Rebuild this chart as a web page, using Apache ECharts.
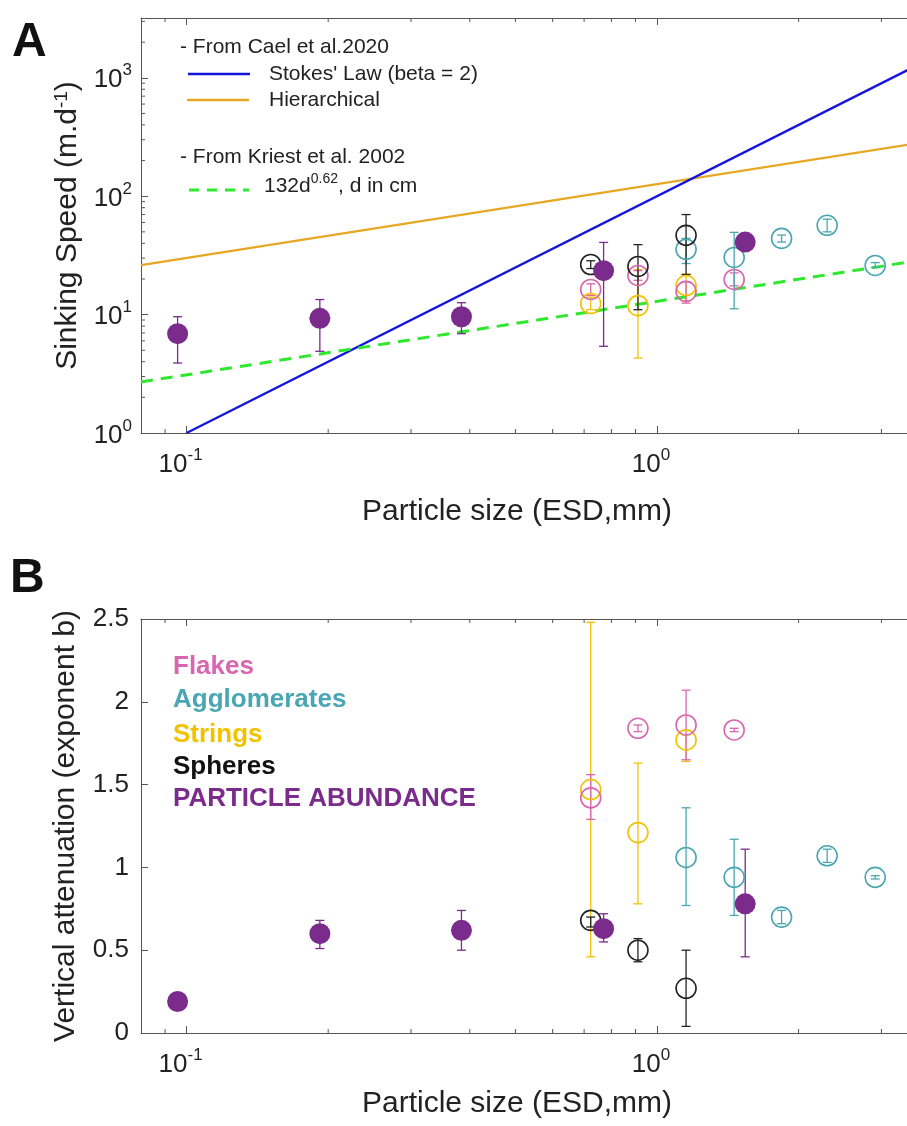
<!DOCTYPE html>
<html>
<head>
<meta charset="utf-8">
<script src="https://cdn.jsdelivr.net/npm/echarts@6/dist/echarts.min.js"></script>
<style>
  html, body { margin: 0; padding: 0; background: #fff; }
  #container { width: 907px; height: 1126px; }
</style>
</head>
<body>
<div id="container"></div>
<script>
// ---- data ----
// particle size (ESD, mm) of each class
const abundSize = [0.0957, 0.192, 0.384, 0.77, 1.54];
const flakeSize = [0.723, 0.911, 1.153, 1.459];
const aggSize = [1.153, 1.459, 1.84, 2.30, 2.91];
const stringSize = [0.723, 0.911, 1.153];
const sphereSize = [0.723, 0.911, 1.153];

// panel A : sinking speed (m/d)
const abundSpeed = [6.9, 9.3, 9.6, 23.5, 41];
const abundSpeedLo = [3.9, 4.9, 6.9, 5.4, null];
const abundSpeedHi = [9.6, 13.4, 12.6, 40.7, null];
const flakeSpeed = [16.3, 21.4, 15.7, 19.8];
const flakeSpeedLo = [14.5, 19.5, 12.5, 17.5];
const flakeSpeedHi = [18.2, 23.5, 19, 22.5];
const aggSpeed = [35.6, 30.4, 44, 56.8, 26];
const aggSpeedLo = [27, 11.2, 41, 50, 25];
const aggSpeedHi = [44, 49.5, 47, 64, 27.5];
const stringSpeed = [12.4, 11.9, 17.6];
const stringSpeedLo = [11, 4.3, 13];
const stringSpeedHi = [14, 24, 22];
const sphereSpeed = [26.5, 25.5, 46.7];
const sphereSpeedLo = [24.5, 11, 21.8];
const sphereSpeedHi = [28.5, 39, 70];

// model lines (end points, log-log straight lines)
const stokesSize = [0.1, 4];
const stokesSpeed = [1, 1600];
const hierSize = [0.08, 4];
const hierSpeed = [26.2, 300];
const kriestSize = [0.08, 4];
const kriestSpeed = [2.7, 30.6];

// panel B : vertical attenuation exponent b
const abundB = [0.19, 0.60, 0.62, 0.63, 0.78];
const abundBLo = [null, 0.51, 0.50, 0.55, 0.46];
const abundBHi = [null, 0.68, 0.74, 0.72, 1.11];
const flakeB = [1.42, 1.84, 1.86, 1.83];
const flakeBLo = [1.29, 1.82, 1.65, 1.82];
const flakeBHi = [1.56, 1.86, 2.07, 1.84];
const aggB = [1.06, 0.94, 0.70, 1.07, 0.94];
const aggBLo = [0.77, 0.71, 0.66, 1.03, 0.93];
const aggBHi = [1.36, 1.17, 0.74, 1.11, 0.95];
const stringB = [1.47, 1.21, 1.77];
const stringBLo = [0.46, 0.78, 1.64];
const stringBHi = [2.48, 1.63, 1.80];
const sphereB = [0.68, 0.50, 0.27];
const sphereBLo = [0.64, 0.43, 0.04];
const sphereBHi = [0.70, 0.57, 0.50];

// minor tick positions
const xMinor = [0.09, 0.2, 0.3, 0.4, 0.5, 0.6, 0.7, 0.8, 0.9, 2, 3];
const yMinorA = [2, 3, 4, 5, 6, 7, 8, 9, 20, 30, 40, 50, 60, 70, 80, 90,
  200, 300, 400, 500, 600, 700, 800, 900, 2000, 3000];

const FONT = 'Liberation Sans, Arial, sans-serif';
const C = {
  purple: '#7a2b8c', pink: '#d966b0', teal: '#4aa6b2', yellow: '#f2c200',
  black: '#222222', blue: '#1414dc', orange: '#e8a723', green: '#2ee82e', axis: '#555'
};
// the figure is cropped on the right, so the axis stops at ~3.4 mm
const X_MIN = 0.08, X_MAX = 3.4, YA_MIN = 1, YA_MAX = 3200;

var dom = document.getElementById('container');
var myChart = echarts.init(dom, null, { renderer: 'canvas' });

const supRich = {
  base: { fontSize: 26, lineHeight: 36, fontFamily: FONT, color: '#222' },
  sup: { fontSize: 17, lineHeight: 17, verticalAlign: 'top', fontFamily: FONT, color: '#222' }
};
function powLabel(v) {
  const l = Math.log10(v);
  const e = Math.round(l);
  if (Math.abs(l - e) > 1e-6) return '';
  return '{base|10}{sup|' + e + '}';
}

const titleStyle = { fontSize: 30, fontFamily: FONT, color: '#222' };

function logX(grid, pos, withLabels, name, nameGap) {
  return {
    gridIndex: grid, type: 'log', logBase: 10, min: X_MIN, max: X_MAX, position: pos,
    axisLine: { show: true, onZero: false, lineStyle: { color: C.axis, width: 1 } },
    axisTick: { show: true, inside: true, length: 7, lineStyle: { color: C.axis } },
    axisLabel: withLabels ? {
      show: true, formatter: powLabel, rich: supRich, margin: 14,
      padding: [0, 12, 0, 0], showMinLabel: false, showMaxLabel: false
    } : { show: false },
    splitLine: { show: false },
    name: name || '', nameLocation: 'middle', nameGap: nameGap || 0,
    nameTextStyle: Object.assign({ padding: [0, 14, 0, 0] }, titleStyle)
  };
}

function errorBars(xs, lo, hi, color, g) {
  const data = [];
  xs.forEach((x, i) => { if (lo[i] != null) data.push([x, lo[i], hi[i]]); });
  return {
    type: 'custom', xAxisIndex: g * 2, yAxisIndex: g, data: data, z: 3, silent: true,
    encode: { x: 0, y: [1, 2] },
    renderItem(params, api) {
      const x = api.value(0);
      const a = api.coord([x, api.value(1)]);
      const b = api.coord([x, api.value(2)]);
      const w = 4.5;
      const s = { stroke: color, lineWidth: 1.3, fill: null };
      return {
        type: 'group', children: [
          { type: 'line', shape: { x1: a[0], y1: a[1], x2: b[0], y2: b[1] }, style: s },
          { type: 'line', shape: { x1: a[0] - w, y1: a[1], x2: a[0] + w, y2: a[1] }, style: s },
          { type: 'line', shape: { x1: b[0] - w, y1: b[1], x2: b[0] + w, y2: b[1] }, style: s }
        ]
      };
    }
  };
}

function markers(xs, ys, color, filled, g) {
  return {
    type: 'scatter', xAxisIndex: g * 2, yAxisIndex: g, silent: true,
    data: xs.map((x, i) => [x, ys[i]]),
    symbol: 'circle', symbolSize: filled ? 21 : 20, z: filled ? 5 : 4,
    itemStyle: filled ? { color: color, opacity: 1 }
      : { color: 'rgba(0,0,0,0)', borderColor: color, borderWidth: 1.6, opacity: 1 }
  };
}

function modelLine(xs, ys, color, dashed) {
  return {
    type: 'line', xAxisIndex: 0, yAxisIndex: 0, data: xs.map((x, i) => [x, ys[i]]),
    symbol: 'none', clip: true, z: 2, silent: true,
    lineStyle: { color: color, width: dashed ? 3 : 2.3, type: dashed ? [12, 8] : 'solid' }
  };
}

// minor ticks on bottom and top edges of a grid
function minorTicksX(vals, yAt, g) {
  return {
    type: 'custom', xAxisIndex: g * 2, yAxisIndex: g, silent: true, clip: false,
    data: vals.map(v => [v, yAt]),
    renderItem(params, api) {
      const cs = params.coordSys;
      const x = api.coord([api.value(0), yAt])[0];
      const st = { stroke: C.axis, lineWidth: 1 };
      return {
        type: 'group', children: [
          { type: 'line', shape: { x1: x, y1: cs.y + cs.height, x2: x, y2: cs.y + cs.height - 4 }, style: st },
          { type: 'line', shape: { x1: x, y1: cs.y, x2: x, y2: cs.y + 4 }, style: st }
        ]
      };
    }
  };
}
function minorTicksY(vals, xAt, g) {
  return {
    type: 'custom', xAxisIndex: g * 2, yAxisIndex: g, silent: true, clip: false,
    data: vals.map(v => [xAt, v]),
    renderItem(params, api) {
      const cs = params.coordSys;
      const y = api.coord([xAt, api.value(1)])[1];
      return {
        type: 'line', shape: { x1: cs.x, y1: y, x2: cs.x + 4, y2: y },
        style: { stroke: C.axis, lineWidth: 1 }
      };
    }
  };
}

// text anchored at its left / vertical middle
const legendText = (x, y, text, color, size, bold) => ({
  type: 'text', x: x, y: y, z: 10,
  style: {
    text: text, fill: color, font: (bold ? 'bold ' : '') + size + 'px ' + FONT,
    textAlign: 'left', textVerticalAlign: 'middle'
  }
});
const legendLine = (x1, x2, y, color, dashed) => ({
  type: 'line', z: 10, shape: { x1: x1, y1: y, x2: x2, y2: y },
  style: { stroke: color, lineWidth: dashed ? 3 : 2.5, lineDash: dashed ? [10, 8] : null }
});

var option = {
  animation: false,
  backgroundColor: '#fff',
  textStyle: { fontFamily: FONT },
  grid: [
    { left: 141, top: 18, right: 0, height: 415, outerBoundsMode: 'none' },
    { left: 141, top: 619, right: 0, height: 414, outerBoundsMode: 'none' }
  ],
  xAxis: [
    logX(0, 'bottom', true, 'Particle size (ESD,mm)', 64),
    logX(0, 'top', false),
    logX(1, 'bottom', true, 'Particle size (ESD,mm)', 56),
    logX(1, 'top', false)
  ],
  yAxis: [
    {
      gridIndex: 0, type: 'log', logBase: 10, min: YA_MIN, max: YA_MAX,
      axisLine: { show: true, lineStyle: { color: C.axis } },
      axisTick: { inside: true, length: 7, lineStyle: { color: C.axis } },
      axisLabel: { formatter: powLabel, rich: supRich, margin: 9, showMaxLabel: false, padding: [5, 0, 0, 0] },
      splitLine: { show: false },
      name: 'Sinking Speed (m.d{sup|-1})', nameLocation: 'middle', nameRotate: 90, nameGap: 58,
      nameTextStyle: Object.assign({
        rich: { sup: { fontSize: 19, lineHeight: 19, verticalAlign: 'top', fontFamily: FONT, color: '#222' } }
      }, titleStyle)
    },
    {
      gridIndex: 1, type: 'value', min: 0, max: 2.5, interval: 0.5,
      axisLine: { show: true, lineStyle: { color: C.axis } },
      axisTick: { inside: true, length: 7, lineStyle: { color: C.axis } },
      axisLabel: { fontSize: 26, color: '#222', margin: 12, fontFamily: FONT },
      splitLine: { show: false },
      name: 'Vertical attenuation (exponent b)', nameLocation: 'middle', nameRotate: 90, nameGap: 60,
      nameTextStyle: titleStyle
    }
  ],
  series: [
    minorTicksX(xMinor, YA_MIN, 0),
    minorTicksY(yMinorA, X_MIN, 0),
    minorTicksX(xMinor, 0, 1),
    modelLine(hierSize, hierSpeed, C.orange, false),
    modelLine(stokesSize, stokesSpeed, C.blue, false),
    modelLine(kriestSize, kriestSpeed, C.green, true),

    errorBars(stringSize, stringSpeedLo, stringSpeedHi, C.yellow, 0),
    errorBars(flakeSize, flakeSpeedLo, flakeSpeedHi, C.pink, 0),
    errorBars(aggSize, aggSpeedLo, aggSpeedHi, C.teal, 0),
    errorBars(sphereSize, sphereSpeedLo, sphereSpeedHi, C.black, 0),
    errorBars(abundSize, abundSpeedLo, abundSpeedHi, C.purple, 0),
    markers(stringSize, stringSpeed, C.yellow, false, 0),
    markers(flakeSize, flakeSpeed, C.pink, false, 0),
    markers(aggSize, aggSpeed, C.teal, false, 0),
    markers(sphereSize, sphereSpeed, C.black, false, 0),
    markers(abundSize, abundSpeed, C.purple, true, 0),

    errorBars(stringSize, stringBLo, stringBHi, C.yellow, 1),
    errorBars(flakeSize, flakeBLo, flakeBHi, C.pink, 1),
    errorBars(aggSize, aggBLo, aggBHi, C.teal, 1),
    errorBars(sphereSize, sphereBLo, sphereBHi, C.black, 1),
    errorBars(abundSize, abundBLo, abundBHi, C.purple, 1),
    markers(stringSize, stringB, C.yellow, false, 1),
    markers(flakeSize, flakeB, C.pink, false, 1),
    markers(aggSize, aggB, C.teal, false, 1),
    markers(sphereSize, sphereB, C.black, false, 1),
    markers(abundSize, abundB, C.purple, true, 1)
  ],
  graphic: [
    legendText(12, 43, 'A', '#111', 48, true),
    legendText(10, 579, 'B', '#111', 48, true),

    legendText(180, 47, '- From Cael et al.2020', '#222', 21),
    legendLine(188, 250, 74, C.blue),
    legendText(269, 74, "Stokes' Law (beta = 2)", '#222', 21),
    legendLine(187, 249, 100, C.orange),
    legendText(269, 100, 'Hierarchical', '#222', 21),
    legendText(180, 157, '- From Kriest et al. 2002', '#222', 21),
    legendLine(189, 249, 190, C.green, true),
    {
      type: 'text', x: 264, y: 186, z: 10,
      style: {
        text: '{b|132d}{s|0.62}{b|, d in cm}', textAlign: 'left', textVerticalAlign: 'middle',
        rich: {
          b: { fontSize: 21, fontFamily: FONT, fill: '#222', lineHeight: 28 },
          s: { fontSize: 14, fontFamily: FONT, fill: '#222', lineHeight: 14, verticalAlign: 'top' }
        }
      }
    },

    legendText(173, 667, 'Flakes', C.pink, 26, true),
    legendText(173, 700, 'Agglomerates', C.teal, 26, true),
    legendText(173, 735, 'Strings', C.yellow, 26, true),
    legendText(173, 767, 'Spheres', '#111', 26, true),
    legendText(173, 799, 'PARTICLE ABUNDANCE', C.purple, 26, true)
  ]
};

myChart.setOption(option);
</script>
</body>
</html>
